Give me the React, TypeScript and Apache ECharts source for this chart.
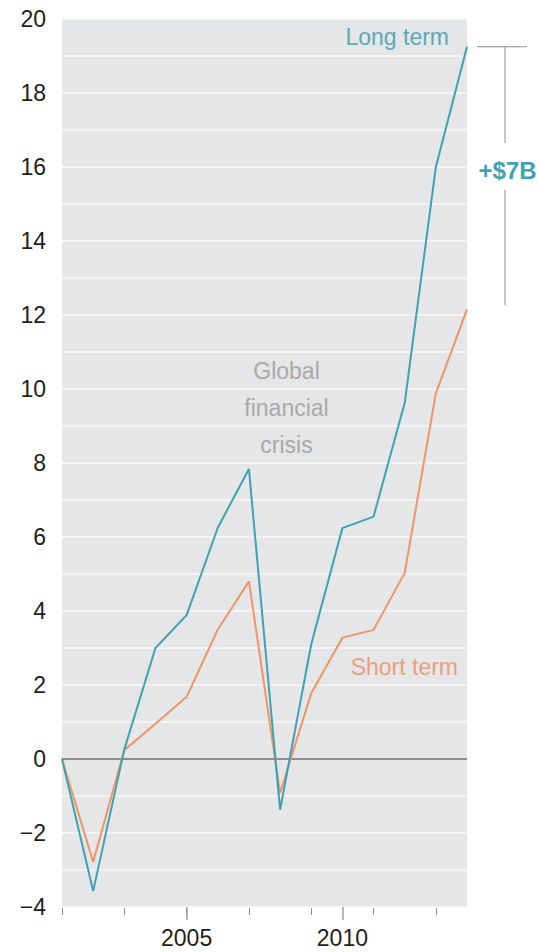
import React, { useEffect, useRef } from 'react';
import * as echarts from 'echarts';

const years = ['2001', '2002', '2003', '2004', '2005', '2006', '2007', '2008', '2009', '2010', '2011', '2012', '2013', '2014'];
const longTerm = [0, -3.57, 0.26, 3.0, 3.89, 6.25, 7.84, -1.37, 3.1, 6.24, 6.55, 9.62, 16.0, 19.25];
const shortTerm = [0, -2.78, 0.24, 0.95, 1.68, 3.5, 4.8, -0.92, 1.78, 3.28, 3.49, 5.03, 9.89, 12.15];
const labeledYears = ['2005', '2010'];
const yMin = -4;
const yMax = 20;
const yStep = 2;

const TEAL = '#3ea2b3';
const ORANGE = '#ef9567';
const FONT = '"Liberation Sans", Arial, sans-serif';

export default function App() {
  const ref = useRef<HTMLDivElement>(null);
  useEffect(() => {
    if (!ref.current) return;
    const chart = echarts.init(ref.current, null, { renderer: 'svg' });
    const isLabeled = (_i: number, v: string) => labeledYears.indexOf(v) >= 0;
    chart.setOption({
      animation: false,
      grid: {
        left: 62,
        right: 72,
        top: 19,
        bottom: 45,
        show: true,
        backgroundColor: '#e5e6e8',
        borderWidth: 0,
      },
      xAxis: [
        {
          type: 'category',
          data: years,
          boundaryGap: false,
          offset: 1,
          axisLine: { show: false, onZero: false },
          axisTick: { show: true, length: 7, lineStyle: { color: '#8f8f8f', width: 1 } },
          axisLabel: { show: false },
          splitLine: { show: false },
        },
        {
          type: 'category',
          data: years,
          boundaryGap: false,
          position: 'bottom',
          offset: 0,
          axisLine: { show: false, onZero: false },
          axisTick: { show: true, length: 13, interval: isLabeled, lineStyle: { color: '#a0a0a0', width: 1.5 } },
          axisLabel: {
            show: true,
            interval: isLabeled,
            fontSize: 23,
            fontFamily: FONT,
            color: '#1e1e1e',
            margin: 19,
          },
          splitLine: { show: false },
        },
      ],
      yAxis: {
        type: 'value',
        min: yMin,
        max: yMax,
        interval: yStep,
        axisLine: { show: false },
        axisTick: { show: false },
        minorTick: { show: false, splitNumber: 2 },
        minorSplitLine: { show: true, lineStyle: { color: '#f7f7f8', width: 1.5 } },
        splitLine: { show: true, lineStyle: { color: '#f7f7f8', width: 1.5 } },
        axisLabel: {
          fontSize: 23,
          fontFamily: FONT,
          color: '#1e1e1e',
          margin: 16,
          formatter: (v: number) => (v < 0 ? '\u2212' + Math.abs(v) : String(v)),
        },
      },
      series: [
        {
          name: 'Short term',
          type: 'line',
          xAxisIndex: 0,
          data: shortTerm,
          symbol: 'none',
          lineStyle: { color: ORANGE, width: 2 },
          markLine: {
            silent: true,
            symbol: ['none', 'none'],
            label: { show: false },
            lineStyle: { color: '#8c8c8c', width: 2, type: 'solid' },
            data: [{ yAxis: 0 }],
            z: 1,
          },
        },
        {
          name: 'Long term',
          type: 'line',
          xAxisIndex: 0,
          data: longTerm,
          symbol: 'none',
          lineStyle: { color: TEAL, width: 2 },
        },
      ],
    });

    const last = years.length - 1;
    const topY = chart.convertToPixel({ yAxisIndex: 0 }, longTerm[last]) as number;
    const botY = chart.convertToPixel({ yAxisIndex: 0 }, shortTerm[last]) as number;
    const midY = 170;
    const bx = 505;
    const gray = '#8f8f8f';

    const txt = (text: string, x: number, y: number, fill: string, size: number, align: string, extra: any = {}) => ({
      type: 'text',
      x,
      y,
      silent: true,
      style: {
        text,
        fill,
        font: (extra.fontWeight ? extra.fontWeight + ' ' : '') + size + 'px ' + FONT,
        fontSize: size,
        fontFamily: FONT,
        align,
        verticalAlign: 'middle',
        textAlign: align,
        textVerticalAlign: 'middle',
        ...extra,
      },
    });

    chart.setOption({
      graphic: [
        {
          type: 'line',
          shape: { x1: 477, y1: topY, x2: 527, y2: topY },
          style: { stroke: gray, lineWidth: 1 },
          silent: true,
        },
        {
          type: 'line',
          shape: { x1: bx, y1: topY, x2: bx, y2: midY - 27 },
          style: { stroke: gray, lineWidth: 1 },
          silent: true,
        },
        {
          type: 'line',
          shape: { x1: bx, y1: midY + 20, x2: bx, y2: botY - 4 },
          style: { stroke: gray, lineWidth: 1 },
          silent: true,
        },
        txt('+$7B', 507.5, midY, TEAL, 24, 'center', { fontWeight: 'bold' }),
        txt('Long term', 449, 37, '#5aa9b8', 23, 'right'),
        txt('Short term', 458, 667, '#eaa07a', 23, 'right'),
        txt('Global\nfinancial\ncrisis', 286.5, 408, '#a9a9a9', 23, 'center', { lineHeight: 37 }),
      ],
    });

    return () => chart.dispose();
  }, []);

  return (
    <div
      ref={ref}
      style={{ position: 'fixed', left: 0, top: 0, width: 539, height: 952, background: '#fff' }}
    />
  );
}
